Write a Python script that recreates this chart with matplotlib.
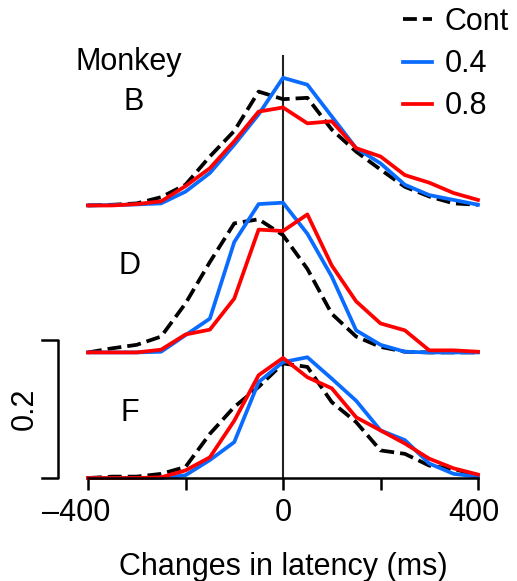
import numpy as np
import matplotlib.pyplot as plt
from matplotlib.transforms import ScaledTranslation

plt.rcParams['font.family'] = ['Liberation Sans', 'DejaVu Sans']

# latency bins (ms)
latency = np.arange(-400, 401, 50)

# proportion of trials, one array per monkey and condition
b_cont = [0, 0.001, 0.003, 0.012, 0.030, 0.071, 0.108, 0.165, 0.154, 0.156, 0.110, 0.078, 0.052, 0.027, 0.013, 0.003, 0.001]
b_04 = [0, 0.0005, 0.0015, 0.003, 0.020, 0.047, 0.088, 0.132, 0.185, 0.175, 0.129, 0.083, 0.061, 0.030, 0.015, 0.008, 0.001]
b_08 = [0, 0, 0.002, 0.006, 0.028, 0.054, 0.093, 0.136, 0.142, 0.119, 0.122, 0.083, 0.071, 0.044, 0.033, 0.018, 0.008]

d_cont = [0, 0.006, 0.011, 0.023, 0.071, 0.131, 0.187, 0.193, 0.170, 0.121, 0.056, 0.023, 0.008, 0.001, 0, 0, 0]
d_04 = [0, 0, 0, 0.001, 0.025, 0.049, 0.160, 0.215, 0.217, 0.172, 0.110, 0.032, 0.011, 0.001, 0, 0, 0]
d_08 = [0, 0, 0, 0.004, 0.026, 0.033, 0.078, 0.178, 0.176, 0.200, 0.126, 0.074, 0.042, 0.032, 0.003, 0.003, 0.001]

f_cont = [0, 0.002, 0.002, 0.006, 0.016, 0.064, 0.103, 0.132, 0.166, 0.161, 0.110, 0.081, 0.040, 0.035, 0.018, 0.013, 0.004]
f_04 = [0, 0, 0, 0, 0.004, 0.026, 0.052, 0.139, 0.168, 0.175, 0.144, 0.112, 0.069, 0.055, 0.021, 0.006, 0.002]
f_08 = [0, 0, 0, 0.001, 0.011, 0.030, 0.083, 0.149, 0.174, 0.146, 0.130, 0.088, 0.069, 0.050, 0.028, 0.014, 0.005]

monkeys = ['B', 'D', 'F']
offsets = [0.395, 0.182, 0.0]
blue = '#0a6cff'
red = '#ff0000'
fs = 22

fig = plt.figure(figsize=(5.17, 5.81), dpi=100)
ax = fig.add_axes([88 / 517, 103 / 581, 390 / 517, 478 / 581])
ax.set_xlim(-400, 400)
ax.set_ylim(0, 478 / 690)

curves = [(b_cont, b_04, b_08), (d_cont, d_04, d_08), (f_cont, f_04, f_08)]
for name, off, (c, s4, s8) in zip(monkeys, offsets, curves):
    lc, = ax.plot(latency, np.array(c) + off, '--', color='black', lw=2.7, clip_on=False)
    l4, = ax.plot(latency, np.array(s4) + off, color=blue, lw=2.7, clip_on=False)
    l8, = ax.plot(latency, np.array(s8) + off, color=red, lw=2.7, clip_on=False)

# zero line
ax.plot([0, 0], [0, 0.612], color='#222222', lw=1.5, zorder=0)

# labels
ax.text(-316, 0.603, 'Monkey', fontsize=fs, ha='center', va='center')
ax.text(-306, 0.545, 'B', fontsize=fs, ha='center', va='center')
ax.text(-314, 0.307, 'D', fontsize=fs, ha='center', va='center')
ax.text(-314, 0.094, 'F', fontsize=fs, ha='center', va='center')

# scale bar
ax.plot([-494, -462, -462, -494], [0.2, 0.2, 0, 0], color='black', lw=1.8, clip_on=False)
ax.text(-529, 0.1, '0.2', fontsize=fs, rotation=90, ha='center', va='center')

for sp in ['left', 'right', 'top']:
    ax.spines[sp].set_visible(False)
ax.spines['bottom'].set_linewidth(1.8)
ax.set_yticks([])
ax.set_xticks([-400, -200, 0, 200, 400])
ax.set_xticklabels(['\u2013400', '', '0', '', '400'])
ax.tick_params(axis='x', length=8.5, width=1.8, labelsize=fs, pad=6)
ax.set_xlabel('Changes in latency (ms)', fontsize=fs, labelpad=17)

# nudge outer tick labels like the original
shifts = [-0.12, 0, 0, 0, -0.04]
for lab, dx in zip(ax.get_xticklabels(), shifts):
    lab.set_transform(lab.get_transform() + ScaledTranslation(dx, 0, fig.dpi_scale_trans))

fig.legend([lc, l4, l8], ['Cont', '0.4', '0.8'], loc='upper left',
           bbox_to_anchor=(403 / 517, 1 - 7 / 581), frameon=False, fontsize=fs,
           handlelength=0.95, handletextpad=0.4, labelspacing=0.4,
           borderpad=0, borderaxespad=0)

fig.savefig('out.png', dpi=100)
